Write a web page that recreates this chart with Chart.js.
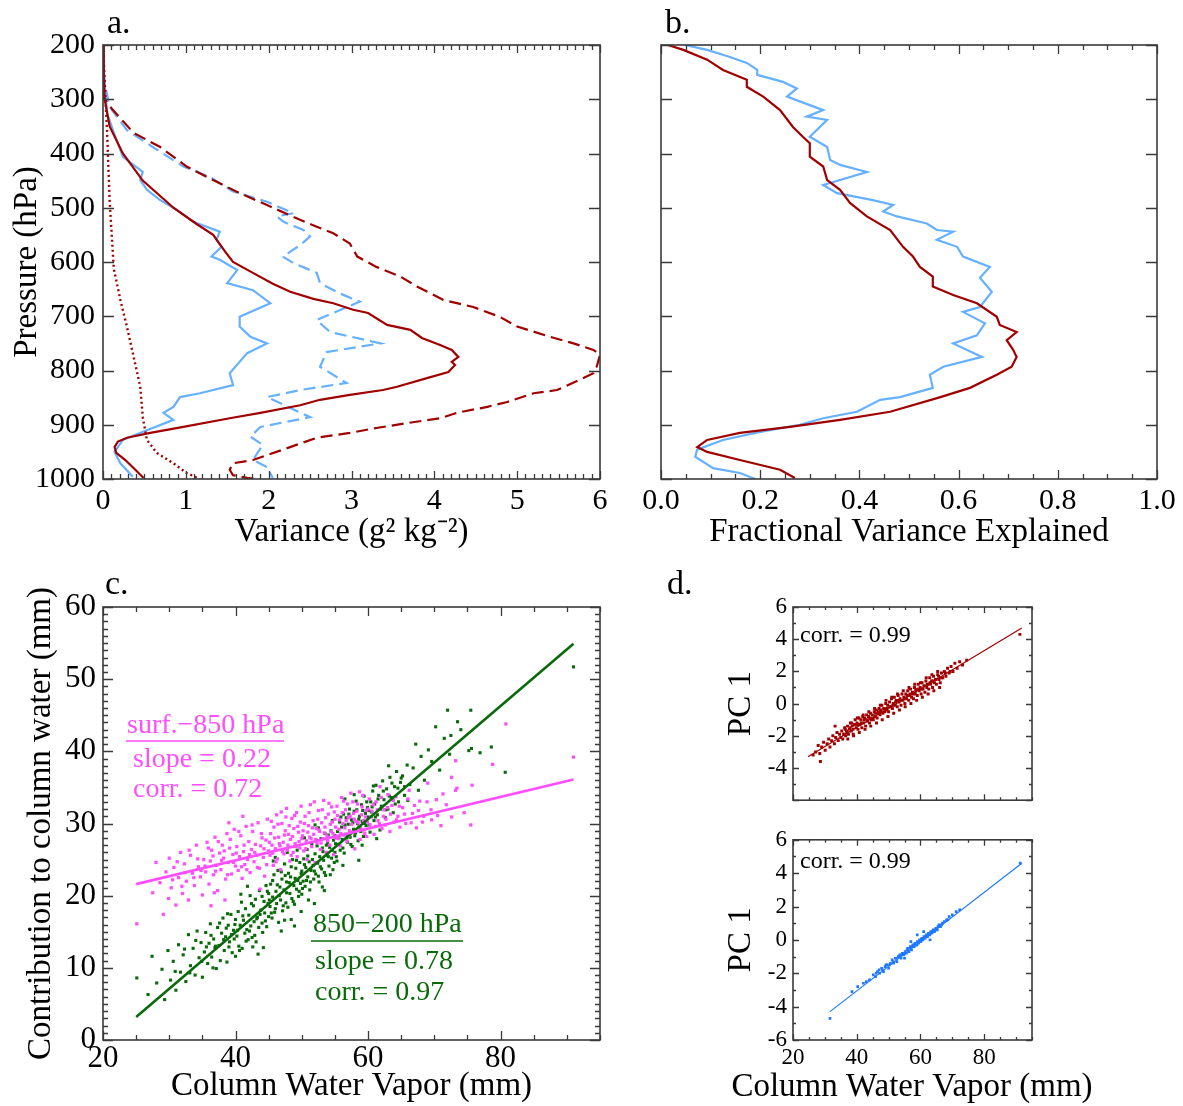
<!DOCTYPE html>
<html><head><meta charset="utf-8">
<script src="https://cdn.jsdelivr.net/npm/chart.js@4.4.1/dist/chart.umd.min.js"></script>
<style>
html,body{margin:0;padding:0;background:#fff;}
body{width:1183px;height:1106px;position:relative;overflow:hidden;}
canvas{position:absolute;}
</style></head><body>
<canvas id="ca" width="620" height="560" style="left:0;top:0"></canvas>
<canvas id="cb" width="563" height="560" style="left:620px;top:0"></canvas>
<canvas id="cc" width="620" height="546" style="left:0;top:560px"></canvas>
<canvas id="cd1" width="543" height="260" style="left:640px;top:560px"></canvas>
<canvas id="cd2" width="543" height="286" style="left:640px;top:820px"></canvas>
<script>
// ---------- DATA ----------
// Panel a: [variance (g2 kg-2), pressure (hPa)]
const aRedSolid = [[0,200],[0.01,260],[0.02,300],[0.08,350],[0.24,400],[0.48,450],[0.85,500],[1.13,530],[1.33,550],[1.47,580],[1.57,600],[1.81,620],[2.05,640],[2.26,655],[2.54,668],[2.78,676],[3.02,688],[3.2,694],[3.43,716],[3.71,725],[3.85,740],[4.07,753],[4.21,762],[4.29,775],[4.21,784],[4.25,790],[4.17,803],[3.91,814],[3.55,830],[3.38,836],[2.98,845],[2.62,854],[2.38,864],[1.9,878],[1.53,888],[0.97,904],[0.57,915],[0.29,924],[0.18,931],[0.14,941],[0.16,952],[0.27,965],[0.39,983],[0.49,998]];
const aRedDashed = [[0,285],[0.02,300],[0.12,320],[0.37,362],[0.69,388],[1.01,424],[1.33,449],[1.65,473],[1.98,495],[2.3,517],[2.58,535],[2.78,547],[2.98,566],[3.07,590],[3.3,609],[3.59,627],[3.79,645],[4.11,670],[4.47,683],[4.79,701],[5.0,719],[5.4,738],[5.68,750],[5.92,762],[6.0,771],[5.96,793],[5.92,805],[5.8,814],[5.48,836],[5.2,842],[4.88,858],[4.64,867],[4.27,878],[4.07,888],[3.67,897],[3.3,906],[2.98,915],[2.58,924],[2.17,946],[1.81,965],[1.57,971],[1.53,983],[1.57,993],[1.74,998],[1.86,1000]];
const aRedDotted = [[0,200],[0.05,362],[0.08,486],[0.13,612],[0.21,670],[0.29,720],[0.36,768],[0.45,830],[0.48,886],[0.53,928],[0.65,952],[0.85,971],[1.01,989],[1.17,1000]];
const aBlueSolid = [[0,222],[0.02,270],[0.05,326],[0.12,357],[0.24,406],[0.48,434],[0.45,449],[0.53,467],[0.69,486],[0.89,504],[1.09,526],[1.41,544],[1.37,559],[1.43,572],[1.31,590],[1.41,596],[1.62,615],[1.5,639],[1.81,652],[2.02,676],[1.65,701],[1.65,719],[1.78,738],[1.98,750],[1.74,768],[1.53,805],[1.57,827],[1.17,842],[0.93,849],[0.85,867],[0.73,878],[0.85,891],[0.53,910],[0.24,928],[0.14,950],[0.21,971],[0.36,996]];
const aBlueDashed = [[0,250],[0.02,270],[0.08,314],[0.29,357],[0.6,388],[0.97,424],[1.29,443],[1.57,470],[1.98,489],[2.3,510],[2.1,516],[2.18,526],[2.42,541],[2.5,553],[2.38,569],[2.17,590],[2.3,602],[2.58,620],[2.62,639],[2.86,658],[3.1,673],[2.58,707],[2.74,729],[3.35,750],[2.7,766],[2.62,793],[2.94,823],[2.38,836],[1.98,849],[2.5,886],[1.9,904],[1.78,922],[1.93,937],[1.81,965],[1.98,978],[2.05,998]];
// Panel b: [fraction, pressure]
const bRed = [[0.014,200],[0.045,209],[0.093,227],[0.125,246],[0.173,264],[0.173,277],[0.206,295],[0.24,320],[0.266,351],[0.286,369],[0.3,381],[0.3,406],[0.327,424],[0.335,449],[0.361,467],[0.381,491],[0.415,516],[0.462,541],[0.488,572],[0.508,590],[0.522,609],[0.548,627],[0.548,645],[0.589,661],[0.637,676],[0.677,701],[0.683,716],[0.717,729],[0.697,744],[0.71,762],[0.717,775],[0.707,793],[0.677,808],[0.623,832],[0.56,850],[0.462,876],[0.361,891],[0.26,904],[0.159,915],[0.093,928],[0.073,941],[0.093,950],[0.159,965],[0.24,983],[0.27,998]];
const bBlue = [[0.048,200],[0.093,209],[0.139,222],[0.173,233],[0.194,246],[0.194,255],[0.246,268],[0.274,280],[0.254,295],[0.327,320],[0.294,332],[0.335,338],[0.3,369],[0.335,388],[0.341,412],[0.361,421],[0.415,434],[0.327,458],[0.355,473],[0.427,486],[0.468,495],[0.448,507],[0.476,516],[0.536,529],[0.556,541],[0.589,544],[0.556,559],[0.597,572],[0.609,590],[0.663,609],[0.643,629],[0.667,655],[0.643,683],[0.609,692],[0.653,713],[0.637,735],[0.589,750],[0.647,775],[0.569,793],[0.542,808],[0.548,832],[0.482,849],[0.442,854],[0.395,876],[0.327,888],[0.28,900],[0.2,913],[0.125,928],[0.073,946],[0.069,959],[0.105,980],[0.159,989],[0.19,1000]];
// Panel c: [column water vapor (mm), contribution (mm)]
const cGreenPts = [[25.1,8.6],[26.8,6.3],[27.4,11.6],[28.1,7.9],[28.9,9.8],[29.3,5.6],[29.8,12.4],[30.2,8.3],
[30.6,10.9],[31.0,6.9],[31.4,13.2],[31.7,9.4],[32.1,11.8],[32.5,8.1],[32.9,14.6],[33.2,10.3],[33.6,12.7],[33.9,9.0],[34.2,15.1],[34.5,11.4],[34.8,13.5],[35.0,8.7],
[35.3,12.2],[35.5,14.9],[35.8,10.6],[36.0,13.4],[36.2,16.1],[36.4,11.5],[36.7,14.0],[36.9,12.8],[37.1,9.9],[37.3,15.6],[37.5,13.1],[37.7,11.0],[37.9,14.8],[38.1,16.9],[38.3,12.4],[38.5,14.3],[38.7,10.8],[38.9,15.9],[39.1,13.6],[39.3,17.4],[39.5,12.1],[39.7,15.2],[39.8,14.0],[40.0,11.6],[40.0,16.7],
[40.2,14.4],[40.4,17.8],[40.5,13.0],[40.7,15.9],[40.9,19.1],[41.0,12.7],[41.2,16.6],[41.4,14.8],[41.5,18.2],[41.7,15.3],[41.9,13.9],[42.0,17.3],[42.2,20.0],[42.3,15.8],[42.5,14.2],[42.7,18.6],[42.8,16.4],[43.0,19.5],[43.1,13.6],[43.3,17.0],[43.5,15.6],[43.6,20.7],[43.8,18.0],[44.0,16.2],[44.1,14.9],[44.3,19.2],[44.4,17.6],[44.6,21.4],[44.7,15.7],[44.9,18.9],[45.0,17.1],[45.0,20.3],[44.2,12.8],[43.4,11.9],[41.8,21.3],
[45.2,18.5],[45.3,21.6],[45.5,16.9],[45.6,19.8],[45.8,22.9],[45.9,17.7],[46.1,20.6],[46.2,18.9],[46.4,23.5],[46.5,16.3],[46.7,21.2],[46.8,19.4],[47.0,22.3],[47.1,17.9],[47.3,20.8],[47.4,24.4],[47.6,19.0],[47.7,21.9],[47.9,18.4],[48.0,23.1],[48.2,20.3],[48.3,22.6],[48.5,19.6],[48.6,25.0],[48.8,21.4],[48.9,18.8],[49.1,23.8],[49.2,20.9],[49.4,22.1],[49.5,19.9],[49.7,24.6],[49.8,21.7],[50.0,20.2],[50.0,23.4],[46.9,15.1],[48.4,16.7],[49.3,26.3],[45.7,24.8],[47.8,26.0],[49.9,17.8],
[50.2,22.0],[50.3,25.1],[50.5,21.3],[50.6,23.9],[50.8,26.4],[50.9,22.6],[51.1,24.7],[51.2,20.8],[51.4,23.5],[51.5,27.2],[51.7,24.2],[51.8,22.3],[52.0,25.8],[52.1,23.0],[52.3,26.9],[52.4,24.5],[52.6,21.9],[52.7,25.4],[52.9,27.9],[53.0,23.7],[53.2,26.1],[53.3,24.9],[53.5,28.6],[53.6,22.8],[53.8,25.6],[53.9,27.3],[54.1,24.1],[54.2,26.7],[54.4,29.0],[54.5,25.2],[54.7,23.6],[54.8,27.7],[55.0,26.0],[55.0,28.3],[51.0,19.4],[52.5,29.4],[53.4,20.7],[54.6,30.4],[50.4,28.0],[51.9,18.9],
[55.2,25.4],[55.4,28.9],[55.5,27.1],[55.7,30.2],[55.8,26.3],[56.0,29.5],[56.1,27.8],[56.3,31.3],[56.4,25.9],[56.6,28.5],[56.7,30.8],[56.9,27.4],[57.0,29.9],[57.2,32.0],[57.3,28.1],[57.5,30.5],[57.6,26.8],[57.8,29.2],[57.9,31.7],[58.1,28.7],[58.2,33.1],[58.4,30.0],[58.5,27.6],[58.7,31.0],[58.8,29.4],[59.0,32.6],[59.1,30.3],[59.3,28.2],[59.4,33.8],[59.6,31.4],[59.7,29.7],[59.9,32.2],[60.0,30.9],[56.5,33.4],[58.6,24.9],
[60.2,29.8],[60.4,33.0],[60.5,31.6],[60.7,34.5],[60.9,30.4],[61.0,32.7],[61.2,35.3],[61.4,31.2],[61.6,33.9],[61.8,29.1],[62.0,32.4],[62.2,35.9],[62.4,33.3],[62.6,30.8],[62.8,34.8],[63.0,32.0],[63.3,36.4],[63.5,33.6],[63.8,31.5],[64.0,35.1],[64.3,37.2],[64.6,33.0],[64.9,35.7],[63.1,38.0],[61.3,27.9],
[65.2,36.6],[65.5,33.9],[65.9,38.1],[66.3,35.4],[66.8,37.7],[67.2,41.0],[67.6,34.6],[68.0,39.3],[68.5,36.0],[69.1,40.2],[69.6,38.6],[70.2,43.4],[70.8,37.4],[71.5,41.8],[72.3,39.6],[72.0,45.7],[73.5,44.1],[75.2,40.1],[76.9,39.8],
[91.0,51.7],[75.5,45.7],[74.0,43.0],[72.5,42.2],[78.6,40.6],[75.6,40.4],[80.7,37.1],
[38.2,13.9],[38.6,15.5],[39.0,12.9],[39.4,14.6],[39.9,16.0],[40.3,15.2],[40.6,12.4],[41.1,17.2],[41.6,13.7],[42.1,15.1],[42.4,18.9],[42.9,14.5],[43.2,16.8],[43.7,17.4],[44.0,19.9],[44.5,16.5],[44.8,20.6],[38.8,17.5],[40.8,20.2],[42.6,12.9],
[45.1,19.4],[45.4,17.6],[45.6,22.1],[46.0,18.2],[46.3,21.5],[46.6,20.0],[46.9,23.3],[47.2,18.6],[47.5,22.8],[47.7,20.4],[48.1,21.8],[48.4,24.0],[48.7,19.2],[49.0,22.4],[49.2,24.9],[49.6,20.6],[49.9,23.1],[46.0,25.3],[48.9,15.8],[47.4,16.6],
[50.1,21.0],[50.4,24.3],[50.7,22.1],[50.9,25.5],[51.3,21.9],[51.6,25.0],[51.9,23.4],[52.2,27.7],[52.5,22.7],[52.8,24.0],[53.1,26.6],[53.4,23.2],[53.7,27.0],[54.0,25.4],[54.3,22.9],[54.6,26.3],[54.9,24.6],[52.0,29.8],[53.1,21.2],[54.0,28.4],
[55.1,27.2],[55.3,24.8],[55.6,28.1],[55.9,30.9],[56.2,26.6],[56.5,29.8],[56.8,28.0],[57.1,31.3],[57.4,27.1],[57.7,30.1],[58.0,28.3],[58.3,31.9],[58.6,30.6],[58.9,28.9],[59.2,31.8],[59.5,30.0],[59.8,33.0],[56.2,24.2],[57.9,34.0],[59.1,27.0],
[60.1,31.8],[60.3,28.8],[60.6,32.3],[60.8,35.2],[61.1,30.9],[61.5,33.4],[61.9,32.0],[62.3,34.5],[62.7,31.9],[63.2,33.8],[63.6,35.6],[64.1,32.7],[64.5,34.9],[65.0,36.3],[65.5,35.1],[66.0,33.2],
[30.9,9.5],[32.3,12.6],[33.1,9.3],[34.0,13.8],[34.9,10.9],[35.6,12.9],[36.3,14.5],[37.0,13.0],[37.6,16.2],[36.6,10.0]];
const cMagentaPts = [[25.1,16.1],[27.5,20.4],[28.0,24.6],[28.6,21.8],[29.1,17.4],[29.5,23.3],[29.9,19.6],[30.0,25.2],
[30.3,21.1],[30.7,23.9],[31.0,18.7],[31.4,22.5],[31.7,26.0],[32.0,20.3],[32.3,24.4],[32.6,22.0],[32.9,19.4],[33.2,25.6],[33.5,23.1],[33.8,21.4],[34.1,27.0],[34.4,24.0],[34.7,22.6],[35.0,20.1],
[35.2,25.0],[35.5,23.3],[35.7,27.4],[36.0,21.6],[36.2,24.8],[36.4,26.3],[36.7,22.9],[36.9,28.1],[37.1,24.2],[37.3,20.7],[37.6,25.9],[37.8,23.6],[38.0,27.0],[38.2,25.2],[38.5,22.3],[38.7,28.6],[38.9,24.6],[39.1,26.6],[39.4,23.0],[39.6,25.7],[39.8,29.2],[40.0,24.1],[36.3,18.6],[38.4,19.4],
[40.2,26.8],[40.4,23.5],[40.6,25.4],[40.8,28.3],[41.0,22.4],[41.2,26.1],[41.4,24.3],[41.6,29.6],[41.8,25.0],[42.0,27.5],[42.2,23.2],[42.4,26.4],[42.6,28.9],[42.8,24.7],[43.0,27.1],[43.2,25.6],[43.4,30.1],[43.6,23.8],[43.8,26.9],[44.0,28.0],[44.2,25.3],[44.4,22.7],[44.6,27.7],[44.8,30.6],[45.0,26.2],[41.1,31.0],[43.7,20.9],
[45.2,25.6],[45.3,28.6],[45.5,27.0],[45.7,24.2],[45.8,29.5],[46.0,26.5],[46.2,31.2],[46.3,25.1],[46.5,28.1],[46.7,26.9],[46.8,23.6],[47.0,30.0],[47.2,27.4],[47.3,25.8],[47.5,29.0],[47.7,32.1],[47.8,26.3],[48.0,28.5],[48.2,24.8],[48.3,27.8],[48.5,30.7],[48.7,26.0],[48.8,29.3],[49.0,27.2],[49.2,31.5],[49.3,25.4],[49.5,28.8],[49.7,26.6],[49.8,30.2],[50.0,27.9],
[50.2,29.0],[50.3,26.2],[50.5,31.0],[50.7,27.6],[50.8,25.0],[51.0,29.7],[51.2,28.1],[51.3,32.6],[51.5,26.8],[51.7,30.4],[51.8,28.5],[52.0,24.6],[52.2,29.3],[52.3,27.3],[52.5,31.8],[52.7,28.9],[52.8,26.4],[53.0,30.1],[53.2,27.9],[53.3,33.2],[53.5,29.5],[53.7,26.0],[53.8,28.3],[54.0,31.3],[54.2,27.0],[54.3,29.9],[54.5,32.3],[54.7,28.6],[54.8,25.7],[55.0,30.6],
[55.2,28.0],[55.4,31.1],[55.6,29.2],[55.8,26.9],[56.0,33.6],[56.2,30.0],[56.4,28.4],[56.6,31.9],[56.8,27.5],[57.0,30.8],[57.2,29.0],[57.4,34.2],[57.6,28.8],[57.8,31.4],[58.0,26.5],[58.2,30.3],[58.4,32.7],[58.6,29.6],[58.8,27.8],[59.0,31.2],[59.2,33.9],[59.4,29.1],[59.6,30.9],[59.8,28.2],[60.0,32.0],
[60.3,29.8],[60.6,31.7],[60.9,28.5],[61.2,33.0],[61.5,30.4],[61.8,35.1],[62.1,29.3],[62.4,31.9],[62.7,30.6],[63.0,34.0],[63.3,28.9],[63.6,32.5],[63.9,30.2],[64.2,33.7],[64.5,31.0],[64.8,29.5],
[65.2,32.2],[65.7,30.0],[66.2,34.6],[66.7,31.4],[67.3,29.4],[67.8,33.1],[68.4,31.0],[69.0,35.6],[69.6,30.5],[70.3,33.3],[71.0,29.7],[71.8,32.6],[72.6,30.9],[73.4,34.9],[74.5,31.5],
[80.8,43.8],[91.0,39.2],[78.8,38.2],[73.2,38.7],[72.6,36.4],[75.7,35.3],[73.2,34.6],[75.5,29.8],
[35.4,24.1],[35.9,26.6],[36.6,25.5],[37.0,23.4],[37.4,27.5],[37.9,24.9],[38.3,26.2],[38.8,22.9],[39.2,27.8],[39.7,24.6],[40.1,25.9],[40.5,28.9],[40.9,24.0],[41.3,27.0],[41.7,23.6],[42.1,25.7],[42.5,29.8],[42.9,26.0],[43.3,23.9],[43.9,28.6],[44.3,26.5],[44.7,24.3],[36.8,20.4],[39.0,30.1],
[45.1,27.4],[45.4,30.3],[45.6,25.9],[45.9,28.0],[46.1,24.7],[46.4,29.9],[46.6,27.2],[46.9,31.6],[47.1,26.1],[47.4,28.4],[47.6,30.9],[47.9,27.0],[48.1,29.7],[48.4,25.6],[48.6,28.2],[48.9,31.1],[49.1,26.8],[49.4,29.6],[49.6,27.5],[49.9,32.4],[50.1,28.3],[50.4,30.0],[50.6,26.5],[50.9,28.8],[51.1,31.5],[51.4,27.9],[51.6,29.4],[51.9,33.0],[52.1,27.8],[52.4,30.6],[52.6,29.1],[52.9,27.3],[53.1,31.9],[53.4,28.7],[53.6,30.8],[53.9,27.6],[54.1,32.8],[54.4,28.9],[54.6,30.2],[54.9,31.6],
[55.1,29.5],[55.3,32.4],[55.5,27.9],[55.7,30.5],[55.9,28.6],[56.1,31.5],[56.3,33.1],[56.5,29.4],[56.7,30.4],[56.9,32.7],[57.1,28.3],[57.3,31.0],[57.5,29.9],[57.7,33.0],[57.9,30.6],[58.1,28.9],[58.3,31.7],[58.5,30.1],[58.7,34.4],[58.9,29.2],[59.1,32.3],[59.3,30.4],[59.5,28.6],[59.7,31.8],[59.9,30.2],[60.2,33.4],[60.5,30.9],[60.8,32.6],[61.1,29.6],[61.4,31.9],[61.7,30.0],[62.0,33.6],[62.3,31.0],[62.6,29.8],[62.9,32.2],[63.4,31.3],[63.8,33.2],[64.3,30.5],[64.7,32.4],
[30.5,22.2],[31.2,24.7],[31.9,21.3],[32.4,23.2],[33.0,26.3],[33.7,22.5],[34.3,25.1],[34.8,23.5],
[65.5,31.3],[66.0,33.4],[66.5,30.1],[67.0,32.5],[67.6,31.8],[68.2,30.2],[68.9,33.0],[69.5,31.9],[70.5,31.1],[71.3,34.1]];
const cGreenFit = [[25,3.2],[91,54.9]];
const cMagentaFit = [[25,21.6],[91,36.1]];
// Panel d: [column water vapor (mm), PC 1]
const dRedPts = [[26.3,-3.2],[27.1,-3.0],[27.9,-2.6],[28.4,-3.1],[29.0,-2.7],[29.6,-2.4],[30.1,-2.9],[30.7,-2.5],[31.2,-2.2],[31.6,-2.7],[32.1,-2.3],[32.5,-2.0],[33.0,-2.5],[33.4,-2.1],[33.8,-1.8],[34.2,-2.3],[34.6,-1.9],[35.0,-2.1],
[35.3,-1.7],[35.6,-2.2],[35.9,-1.9],[36.2,-1.5],[36.5,-2.0],[36.8,-1.7],[37.1,-1.4],[37.4,-1.9],[37.7,-1.6],[38.0,-1.2],[38.3,-1.7],[38.6,-1.4],[38.9,-1.9],[39.2,-1.3],[39.5,-1.0],[39.8,-1.5],[40.1,-1.2],[40.4,-1.6],[40.7,-0.9],[41.0,-1.3],[41.3,-1.0],[41.6,-1.5],[41.9,-0.8],[42.2,-1.2],[42.5,-0.9],[42.8,-1.4],[43.1,-0.7],[43.4,-1.1],[43.7,-0.8],[44.0,-1.2],[44.3,-0.6],[44.6,-1.0],[44.9,-0.7],
[45.2,-1.0],[45.5,-0.5],[45.8,-0.8],[46.1,-0.4],[46.4,-0.9],[46.7,-0.6],[47.0,-0.3],[47.3,-0.7],[47.6,-0.4],[47.9,-0.1],[48.2,-0.6],[48.5,-0.3],[48.8,-0.5],[49.1,0.0],[49.4,-0.4],[49.7,-0.1],[50.0,-0.5],[50.3,0.1],[50.6,-0.2],[50.9,0.3],[51.2,-0.3],[51.5,0.0],[51.8,0.4],[52.1,-0.1],[52.4,0.2],[52.7,-0.2],[53.0,0.5],[53.3,0.1],[53.6,0.3],[53.9,-0.1],[54.2,0.6],[54.5,0.2],[54.8,0.4],
[55.1,0.0],[55.4,0.6],[55.7,0.3],[56.0,0.8],[56.3,0.2],[56.6,0.5],[56.9,0.9],[57.2,0.4],[57.5,0.7],[57.8,0.3],[58.1,1.0],[58.4,0.6],[58.7,0.9],[59.0,0.5],[59.3,1.2],[59.6,0.8],[59.9,1.0],[60.2,0.6],[60.5,1.3],[60.8,0.9],[61.1,1.1],[61.4,0.7],[61.7,1.4],[62.0,1.0],[62.3,1.2],[62.6,0.9],[62.9,1.6],[63.2,1.2],[63.5,1.4],[63.8,1.0],[64.1,1.7],[64.4,1.3],[64.7,1.5],
[65.0,1.2],[65.4,1.8],[65.8,1.5],[66.2,1.3],[66.6,1.9],[67.0,1.6],[67.5,2.0],[68.0,1.7],[68.5,2.2],[69.0,1.9],[69.6,2.3],[70.2,2.0],[70.8,2.5],[71.5,2.2],[72.3,2.6],[73.2,2.4],[74.5,2.7],
[91.2,4.3],[28.6,-3.6],[33.2,-1.4],
[36.1,-1.9],[37.0,-1.8],[37.9,-1.5],[38.8,-1.6],[39.7,-1.3],[40.5,-1.3],[41.4,-1.2],[42.3,-1.0],[43.2,-1.0],[44.1,-0.9],[45.0,-0.9],[45.9,-0.6],[46.8,-0.5],[47.7,-0.5],[48.6,-0.3],[49.5,-0.3],[50.4,-0.2],[51.3,-0.1],[52.2,0.1],[53.1,0.2],[54.0,0.2],[54.9,0.3],[55.8,0.5],[56.7,0.6],[57.6,0.6],[58.5,0.8],[59.4,0.9],[60.3,0.9],[61.2,1.1],[62.1,1.2],[63.0,1.3],[63.9,1.4],[64.8,1.5],[65.7,1.7],[66.6,1.6],[67.8,1.9],[69.3,2.0],
[36.4,-1.6],[38.4,-1.2],[40.2,-0.9],[42.0,-0.7],[43.8,-0.5],[45.6,-0.3],[47.4,-0.1],[49.2,0.2],[51.0,0.4],[52.8,0.6],[54.6,0.8],[56.4,1.0],[58.2,1.2],[60.0,1.3],[61.8,1.6],[63.6,1.8],[65.4,2.0],
[37.2,-2.2],[39.0,-2.0],[40.8,-1.8],[42.6,-1.6],[44.4,-1.4],[46.2,-1.2],[48.0,-1.0],[49.8,-0.8],[51.6,-0.6],[53.4,-0.4],[55.2,-0.2],[57.0,0.0],[58.8,0.2],[60.6,0.4],[62.4,0.6],[64.2,0.8],[66.0,1.0]];
const dBluePts = [[31.6,-4.7],[40.3,-2.8],[42.1,-2.6],[44.0,-2.4],[45.2,-2.1],[45.9,-2.2],[46.5,-1.9],[47.2,-2.0],[47.8,-1.7],[48.4,-1.9],[48.9,-1.6],[49.5,-1.5],[50.0,-1.7],[50.6,-1.4],[51.1,-1.2],[51.6,-1.4],[52.1,-1.1],[52.6,-1.3],[53.0,-1.0],[53.5,-0.9],[53.9,-1.1],[54.3,-0.8],[54.8,-0.9],[55.2,-0.7],[55.6,-0.8],[56.0,-0.5],[56.4,-0.7],[56.8,-0.4],[57.2,-0.6],[57.6,-0.3],[58.0,-0.4],[58.3,-0.2],[58.7,-0.3],[59.0,-0.1],[59.4,-0.2],[59.7,0.0],[60.1,-0.1],[60.4,0.1],[60.8,0.0],[61.1,0.2],[61.5,0.1],[61.8,0.3],[62.2,0.2],[62.5,0.4],[62.9,0.3],[63.2,0.5],[63.6,0.4],[64.0,0.6],[64.4,0.5],[64.8,0.7],[65.3,0.6],[65.8,0.9],[66.3,0.8],[66.9,1.0],[67.5,1.1],[68.2,1.2],[69.0,1.4],[70.0,1.5],[71.2,1.7],[72.3,1.8],[91.3,4.6],[61.0,0.5],[57.0,-0.1],[63.0,0.0],[59.0,0.3],[55.0,-1.1],
[46.1,-2.0],[47.0,-1.8],[48.1,-1.8],[49.2,-1.5],[50.3,-1.5],[51.4,-1.3],[52.4,-1.1],[53.3,-1.0],[54.1,-0.9],[55.0,-0.8],[55.8,-0.6],[56.6,-0.5],[57.4,-0.4],[58.1,-0.3],[58.9,-0.3],[59.6,-0.1],[60.3,0.0],[61.0,0.1],[61.7,0.2],[62.4,0.3],[63.1,0.4],[63.8,0.5],[64.6,0.6],[65.5,0.8],[66.6,0.9],[68.6,1.2],[38.5,-3.1],[43.0,-2.5]];
const dRedFit = [[24.7,-3.3],[91.8,4.7]];
const dBlueFit = [[31.6,-4.3],[91.8,4.6]];
// Tick labels
const aXTicks = [0,1,2,3,4,5,6];
const pTicks = [200,300,400,500,600,700,800,900,1000];
const bXTicks = [0,0.2,0.4,0.6,0.8,1.0];
const cXTicks = [20,40,60,80];
const cYTicks = [0,10,20,30,40,50,60];
const dYTicksTop = [-4,-2,0,2,4,6];
const dYTicksBottom = [-6,-4,-2,0,2,4,6];

// ---------- STYLE ----------
const F = '"Liberation Serif","Times New Roman",serif';
Chart.defaults.font.family = F;
Chart.defaults.color = '#000';
const RED = '#a00000', LBLUE = '#66b0ff', MAG = '#ff4dff', GRN = '#0a6a0a', DBLUE = '#1f78ff';
const FRAME = '#3a3a3a';

const xy = arr => arr.map(([x,y]) => ({x, y}));
const range = (a, b, s) => { const out = []; for (let v = a; v <= b + 1e-9; v += s) out.push(+v.toFixed(6)); return out; };

function frameTicks(spec){
  return {id:'frame', afterDatasetsDraw(chart){
    const {ctx, chartArea:a, scales} = chart;
    const xs = scales.x, ys = scales.y;
    ctx.save();
    ctx.strokeStyle = FRAME; ctx.lineWidth = 1.6;
    ctx.strokeRect(a.left, a.top, a.right - a.left, a.bottom - a.top);
    ctx.lineWidth = 1.3;
    ctx.beginPath();
    const xt = (vals, len) => vals.forEach(v => { const p = Math.round(xs.getPixelForValue(v)) + 0.5;
      ctx.moveTo(p, a.bottom); ctx.lineTo(p, a.bottom - len);
      ctx.moveTo(p, a.top); ctx.lineTo(p, a.top + len); });
    const yt = (vals, len) => vals.forEach(v => { const p = Math.round(ys.getPixelForValue(v)) + 0.5;
      ctx.moveTo(a.left, p); ctx.lineTo(a.left + len, p);
      ctx.moveTo(a.right, p); ctx.lineTo(a.right - len, p); });
    xt(spec.xMinor || [], spec.xMinLen || 4); xt(spec.xMajor || [], spec.xMajLen || 8);
    yt(spec.yMinor || [], spec.yMinLen || 4); yt(spec.yMajor || [], spec.yMajLen || 10);
    ctx.stroke();
    ctx.restore();
  }};
}
function texts(items){
  return {id:'texts', afterDraw(chart){
    const ctx = chart.ctx; ctx.save();
    items.forEach(t => {
      ctx.font = t.font || ('32px ' + F); ctx.fillStyle = t.color || '#000';
      ctx.textAlign = t.align || 'left'; ctx.textBaseline = 'middle';
      ctx.fillText(t.text, t.x, t.y);
      if (t.ul) { ctx.strokeStyle = t.color; ctx.lineWidth = 1.6; ctx.beginPath();
        ctx.moveTo(t.ul[0], t.ul[2]); ctx.lineTo(t.ul[1], t.ul[2]); ctx.stroke(); }
    });
    ctx.restore();
  }};
}
const fixTicks = vals => s => { s.ticks = vals.map(v => ({value: v})); };
const plain = v => String(v);
const baseOpts = (pad) => ({responsive:false, animation:false, devicePixelRatio:1,
  layout:{padding:pad}, plugins:{legend:{display:false}, tooltip:{enabled:false}}});
const noGrid = {display:false, drawTicks:false};
const lineDs = (arr, color, w, dash) => ({data: xy(arr), showLine:true, borderColor:color, borderWidth:w, borderDash:dash||[], pointRadius:0, fill:false, tension:0});
const ptsDs = (arr, color, r) => ({data: xy(arr), showLine:false, pointStyle:'rect', pointRadius:r, backgroundColor:color, borderWidth:0});

// ---------- PANEL a ----------
new Chart(document.getElementById('ca'), {
  type:'scatter',
  data:{datasets:[
    lineDs(aRedSolid, RED, 2.2),
    lineDs(aRedDashed, RED, 2.2, [12,6]),
    lineDs(aRedDotted, RED, 2.4, [2,3]),
    lineDs(aBlueSolid, LBLUE, 2.2),
    lineDs(aBlueDashed, LBLUE, 2.2, [12,6])
  ]},
  options:Object.assign(baseOpts({top:45,right:20,left:0,bottom:0}), {scales:{
    x:{type:'linear', min:0, max:6, grid:noGrid, border:{display:false}, afterBuildTicks:fixTicks(aXTicks), afterFit:s=>{s.height=81;},
       ticks:{font:{size:30}, padding:4, maxRotation:0, autoSkip:false, callback:plain},
       title:{display:true, text:'Variance (g² kg⁻²)', font:{size:33}, padding:{top:0,bottom:8}}},
    y:{type:'linear', min:200, max:1000, reverse:true, grid:noGrid, border:{display:false}, afterBuildTicks:fixTicks(pTicks), afterFit:s=>{s.width=103;},
       ticks:{font:{size:30}, padding:8, autoSkip:false, callback:plain},
       title:{display:true, text:'Pressure (hPa)', font:{size:33}, padding:{top:8,bottom:0}}}
  }}),
  plugins:[frameTicks({xMajor:aXTicks, xMinor:range(0,6,0.1), xMajLen:8, xMinLen:5, yMajor:pTicks, yMajLen:11}),
           texts([{text:'a.', x:107, y:24, font:'34px '+F}])]
});

// ---------- PANEL b ----------
new Chart(document.getElementById('cb'), {
  type:'scatter',
  data:{datasets:[ lineDs(bRed, RED, 2.2), lineDs(bBlue, LBLUE, 2.2) ]},
  options:Object.assign(baseOpts({top:45,right:26,left:0,bottom:0}), {scales:{
    x:{type:'linear', min:0, max:1, grid:noGrid, border:{display:false}, afterBuildTicks:fixTicks(bXTicks), afterFit:s=>{s.height=81;},
       ticks:{font:{size:30}, padding:4, maxRotation:0, autoSkip:false, callback:v=>Number(v).toFixed(1)},
       title:{display:true, text:'Fractional Variance Explained', font:{size:33}, padding:{top:0,bottom:8}}},
    y:{type:'linear', min:200, max:1000, reverse:true, grid:noGrid, border:{display:false}, afterBuildTicks:fixTicks(pTicks), afterFit:s=>{s.width=41;},
       ticks:{display:false}}
  }}),
  plugins:[frameTicks({xMajor:bXTicks, xMinor:range(0,1,0.05), xMajLen:9, xMinLen:5, yMajor:pTicks, yMajLen:11}),
           texts([{text:'b.', x:45, y:24, font:'34px '+F}])]
});

// ---------- PANEL c ----------
new Chart(document.getElementById('cc'), {
  type:'scatter',
  data:{datasets:[
    lineDs(cMagentaFit, MAG, 2.6),
    lineDs(cGreenFit, GRN, 2.6),
    ptsDs(cMagentaPts, MAG, 2.3),
    ptsDs(cGreenPts, GRN, 2.2)
  ]},
  options:Object.assign(baseOpts({top:47,right:20,left:0,bottom:0}), {scales:{
    x:{type:'linear', min:20, max:95, grid:noGrid, border:{display:false}, afterBuildTicks:fixTicks(cXTicks), afterFit:s=>{s.height=66;},
       ticks:{font:{size:31}, padding:0, maxRotation:0, autoSkip:false, callback:plain},
       title:{display:true, text:'Column Water Vapor (mm)', font:{size:33}, padding:{top:0,bottom:0}}},
    y:{type:'linear', min:0, max:60, grid:noGrid, border:{display:false}, afterBuildTicks:fixTicks(cYTicks), afterFit:s=>{s.width=103;},
       ticks:{font:{size:31}, padding:7, autoSkip:false, callback:plain},
       title:{display:true, text:'Contribution to column water (mm)', font:{size:33}, padding:{top:22,bottom:0}}}
  }}),
  plugins:[frameTicks({xMajor:cXTicks, xMinor:range(20,95,5), xMajLen:9, xMinLen:5, yMajor:cYTicks, yMinor:range(0,60,1), yMajLen:10, yMinLen:5}),
           texts([
             {text:'c.', x:105, y:25, font:'34px '+F},
             {text:'surf.−850 hPa', x:127, y:166, font:'28px '+F, color:MAG, ul:[126,284,181]},
             {text:'slope = 0.22', x:133, y:200, font:'28px '+F, color:MAG},
             {text:'corr. = 0.72', x:133, y:230, font:'28px '+F, color:MAG},
             {text:'850−200 hPa', x:313, y:365, font:'28px '+F, color:GRN, ul:[311,463,381]},
             {text:'slope = 0.78', x:315, y:402, font:'28px '+F, color:GRN},
             {text:'corr. = 0.97', x:315, y:433, font:'28px '+F, color:GRN}
           ])]
});

// ---------- PANEL d (top) ----------
new Chart(document.getElementById('cd1'), {
  type:'scatter',
  data:{datasets:[ lineDs(dRedFit, RED, 1.2), ptsDs(dRedPts, RED, 2.1) ]},
  options:Object.assign(baseOpts({top:47,right:151,left:0,bottom:0}), {scales:{
    x:{type:'linear', min:20, max:95, grid:noGrid, border:{display:false}, afterBuildTicks:fixTicks(cXTicks), afterFit:s=>{s.height=4;},
       ticks:{display:false}},
    y:{type:'linear', min:-6, max:6, grid:noGrid, border:{display:false}, afterBuildTicks:fixTicks(dYTicksTop), afterFit:s=>{s.width=153;},
       ticks:{font:{size:23}, padding:6, autoSkip:false, callback:plain},
       title:{display:true, text:'PC 1', font:{size:33}, padding:{top:82,bottom:0}}}
  }}),
  plugins:[frameTicks({xMajor:cXTicks, xMinor:range(20,95,5), xMajLen:6, xMinLen:3, yMajor:[-6,-4,-2,0,2,4,6], yMinor:range(-6,6,1), yMajLen:6, yMinLen:3}),
           texts([{text:'d.', x:27, y:25, font:'34px '+F},
                  {text:'corr. = 0.99', x:160, y:76, font:'24px '+F}])]
});

// ---------- PANEL d (bottom) ----------
new Chart(document.getElementById('cd2'), {
  type:'scatter',
  data:{datasets:[ lineDs(dBlueFit, DBLUE, 1.2), ptsDs(dBluePts, DBLUE, 1.9) ]},
  options:Object.assign(baseOpts({top:12,right:151,left:0,bottom:0}), {scales:{
    x:{type:'linear', min:20, max:95, grid:noGrid, border:{display:false}, afterBuildTicks:fixTicks(cXTicks), afterFit:s=>{s.height=66;},
       ticks:{font:{size:23}, padding:4, maxRotation:0, autoSkip:false, callback:plain}},
    y:{type:'linear', min:-6, max:6, grid:noGrid, border:{display:false}, afterBuildTicks:fixTicks(dYTicksBottom), afterFit:s=>{s.width=153;},
       ticks:{font:{size:23}, padding:6, autoSkip:false, callback:plain},
       title:{display:true, text:'PC 1', font:{size:33}, padding:{top:82,bottom:0}}}
  }}),
  plugins:[frameTicks({xMajor:cXTicks, xMinor:range(20,95,5), xMajLen:6, xMinLen:3, yMajor:dYTicksBottom, yMinor:range(-6,6,1), yMajLen:6, yMinLen:3}),
           texts([{text:'corr. = 0.99', x:160, y:42, font:'24px '+F},
                  {text:'Column Water Vapor (mm)', x:272, y:267, font:'33px '+F, align:'center'}])]
});
</script>
</body></html>
